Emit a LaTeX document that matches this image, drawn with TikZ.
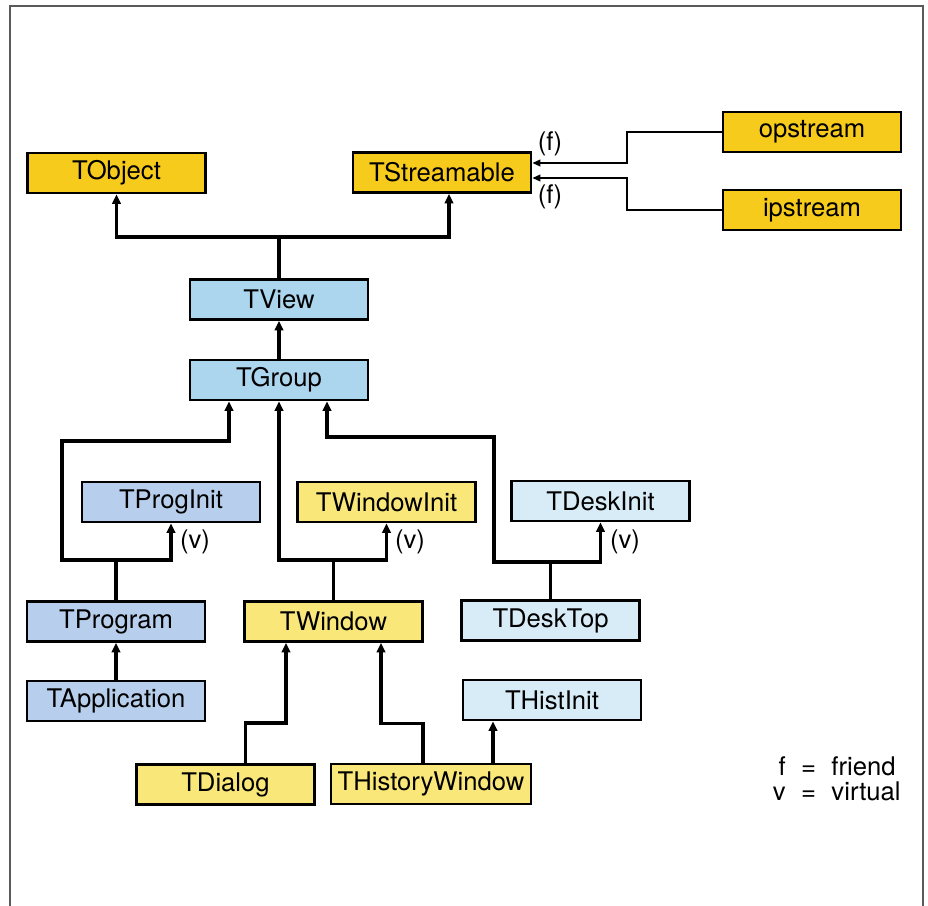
\documentclass[tikz,border=0pt]{standalone}
\usepackage{fontspec}
\setmainfont{TeX Gyre Heros}
\usetikzlibrary{
    arrows.meta,
    positioning
}
\definecolor{gold}{RGB}{246,203,28}
\definecolor{paleyellow}{RGB}{250,231,122}
\definecolor{skyblue}{RGB}{172,213,238}
\definecolor{lavblue}{RGB}{183,207,236}
\definecolor{paleblue}{RGB}{215,236,246}
\definecolor{framegray}{RGB}{90,90,90}
\tikzset{
    cls/.style={draw, line width=1.5pt, minimum width=3.56cm, minimum height=0.8cm,
        inner sep=0pt, font=\fontsize{14.6}{17}\selectfont},
    link/.style={line width=2pt},
    inh/.style={line width=2pt, -{Triangle[length=0.19cm, width=0.17cm]}},
    frd/.style={line width=1.2pt, -{Triangle[length=0.16cm, width=0.13cm]}},
    lbl/.style={font=\fontsize{14.6}{17}\selectfont}
}

\begin{document}
\begin{tikzpicture}[x=0.02cm, y=-0.02cm]
    \useasboundingbox (0,0) rectangle (928,905);
    \draw[framegray, line width=1pt] (10,910) -- (10,6) -- (923,6) -- (923,910);

    \node[cls, fill=gold] (tobject) at (116.5,173) {TObject};
    \node[cls, fill=gold] (tstream) at (442,172.5) {TStreamable};
    \node[cls, fill=gold] (opstream) at (812,132) {opstream};
    \node[cls, fill=gold] (ipstream) at (812,210) {ipstream};

    \node[cls, fill=skyblue] (tview) at (279,299.5) {TView};
    \node[cls, fill=skyblue] (tgroup) at (279,380) {TGroup};

    \node[cls, fill=lavblue] (tproginit) at (171,502) {TProgInit};
    \node[cls, fill=paleyellow] (twininit) at (386.5,502) {TWindowInit};
    \node[cls, fill=paleblue] (tdeskinit) at (600.5,501) {TDeskInit};

    \node[cls, fill=lavblue] (tprogram) at (116,621.5) {TProgram};
    \node[cls, fill=paleyellow] (twindow) at (333.5,621.5) {TWindow};
    \node[cls, fill=paleblue] (tdesktop) at (550.5,620.5) {TDeskTop};

    \node[cls, fill=lavblue] (tapp) at (116,701) {TApplication};
    \node[cls, fill=paleblue] (thistinit) at (552,700) {THistInit};

    \node[cls, fill=paleyellow] (tdialog) at (225.5,784.5) {TDialog};
    \node[cls, fill=paleyellow, minimum width=4cm] (thistwin) at (431,784) {THistoryWindow};

    \coordinate (vtop) at (279,237);
    \draw[link] (tview) -- (vtop);
    \draw[inh] (vtop) -| (tobject);
    \draw[inh] (vtop) -| ([xshift=0.14cm]tstream.south);
    \draw[inh] (tgroup) -- (tview);

    \draw[inh] (tprogram.north) -- ++(0,-40) -| (tproginit);
    \draw[inh] (tprogram.north) ++(0,-40) -| (62,441) -| ([xshift=-1cm]tgroup.south);
    \draw[inh] (twindow.north) -- ++(0,-40) -| (twininit);
    \draw[inh] (twindow.north) ++(0,-40) -| (tgroup);
    \draw[inh] (tdesktop.north) -- ++(0,-37) -| (tdeskinit);
    \draw[inh] (tdesktop.north) ++(0,-37) -| (494,437) -| ([xshift=0.96cm]tgroup.south);

    \draw[inh] (tapp) -- (tprogram);
    \draw[inh] ([xshift=0.4cm]tdialog.north) -- ++(0,-40) -| ([xshift=-0.95cm]twindow.south);
    \draw[inh] ([xshift=-0.16cm]thistwin.north) -- ++(0,-39) -| ([xshift=0.95cm]twindow.south);
    \draw[inh] ([xshift=1.24cm]thistwin.north) -- ([xshift=1.24cm]thistwin.north |- thistinit.south);

    \draw[frd] (opstream.west) -- ++(-95,0) |- ([yshift=0.19cm]tstream.east);
    \draw[frd] (ipstream.west) -- ++(-95,0) |- ([yshift=-0.11cm]tstream.east);

    \node[lbl] (f1) at (550,144) {(f)};
    \node[lbl] (f2) at (550,197) {(f)};
    \node[lbl] (v1) at (195,542) {(v)};
    \node[lbl] (v2) at (410,542) {(v)};
    \node[lbl] (v3) at (625,542) {(v)};

    \node[lbl, anchor=east, inner sep=0pt] (legend) at (901,782)
        {\begin{tabular}{@{}r@{\hspace{0.6em}=\hspace{0.6em}}l@{}}
            f & friend\\[-3pt]
            v & virtual
        \end{tabular}};
\end{tikzpicture}
\end{document}
